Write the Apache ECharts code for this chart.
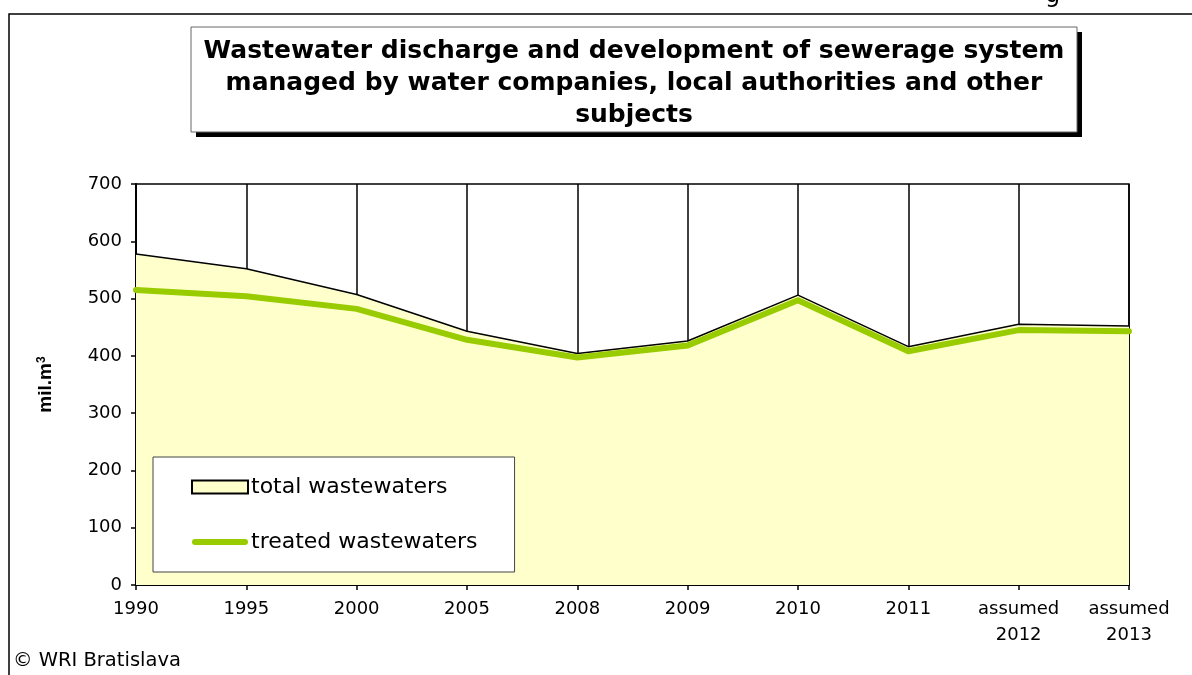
<!DOCTYPE html>
<html>
<head>
<meta charset="utf-8">
<script src="https://cdn.jsdelivr.net/npm/echarts@6/dist/echarts.min.js"></script>
<style>
  html, body { margin: 0; padding: 0; background: #fff; }
  #chart { width: 1192px; height: 675px; }
</style>
</head>
<body>
<div id="chart"></div>
<script>
// Wastewater volumes (mil. m3) by year
const categories = ['1990', '1995', '2000', '2005', '2008', '2009', '2010', '2011', 'assumed\n2012', 'assumed\n2013'];
const totalWastewaters = [578, 552, 507, 443, 404, 426, 506, 416, 455, 452];
const treatedWastewaters = [515, 504, 482, 428, 397, 418, 497, 408, 445, 443];
const yAxisRange = { min: 0, max: 700, interval: 100 };
const titleLines = [
  'Wastewater discharge and development of sewerage system',
  'managed by water companies, local authorities and other',
  'subjects'
];
const seriesNames = ['total wastewaters', 'treated wastewaters'];

const FONT = '"DejaVu Sans", "Liberation Sans", Arial, sans-serif';
const chart = echarts.init(document.getElementById('chart'), null, { renderer: 'canvas' });

// thick rounded bar used as the legend key of the treated line
const lineKey = 'path://M3,0 L53,0 A3,3 0 0 1 53,6 L3,6 A3,3 0 0 1 3,0 Z';

chart.setOption({
  backgroundColor: '#fff',
  animation: false,
  grid: {
    left: 136, right: 63, top: 184, bottom: 90,
    show: true, backgroundColor: '#fff',
    borderColor: '#000', borderWidth: 1.5
  },
  legend: {
    orient: 'vertical',
    left: 153, top: 457,
    padding: [19, 37, 19, 38],
    backgroundColor: '#fff',
    borderColor: '#444', borderWidth: 1,
    itemWidth: 56, itemHeight: 13, itemGap: 33,
    symbolKeepAspect: true,
    textStyle: { fontFamily: FONT, fontSize: 22, lineHeight: 22, color: '#000', padding: [0, 0, 0, -2] },
    data: [
      { name: seriesNames[0], icon: 'rect',
        itemStyle: { color: '#FFFFCC', borderColor: '#000', borderWidth: 2 } },
      { name: seriesNames[1], icon: lineKey,
        itemStyle: { color: '#99CC00', borderWidth: 0 } }
    ]
  },
  xAxis: {
    type: 'category',
    boundaryGap: false,
    data: categories,
    axisLine: { lineStyle: { color: '#000', width: 2 } },
    axisTick: { show: true, length: 5, interval: 0, lineStyle: { color: '#000', width: 1.5 } },
    axisLabel: { interval: 0, color: '#000', fontFamily: FONT, fontSize: 18, margin: 11, lineHeight: 26 },
    splitLine: { show: true, interval: 0, lineStyle: { color: '#000', width: 1.5 } }
  },
  yAxis: {
    type: 'value',
    min: yAxisRange.min, max: yAxisRange.max, interval: yAxisRange.interval,
    axisLine: { show: true, lineStyle: { color: '#000', width: 2 } },
    axisTick: { show: true, length: 5, lineStyle: { color: '#000', width: 1.5 } },
    axisLabel: { color: '#000', fontFamily: FONT, fontSize: 18, margin: 14 },
    splitLine: { show: false },
    name: '{b|mil.m}{s|3}',
    nameLocation: 'middle',
    nameGap: 80,
    nameTextStyle: {
      rich: {
        b: { fontFamily: '"Liberation Sans", Arial, sans-serif', fontWeight: 'bold', fontSize: 19, color: '#000' },
        s: { fontFamily: '"Liberation Sans", Arial, sans-serif', fontWeight: 'bold', fontSize: 12, color: '#000', verticalAlign: 'top', padding: [0, 0, 8, 0] }
      }
    }
  },
  series: [
    {
      name: seriesNames[0],
      type: 'line',
      data: totalWastewaters,
      symbol: 'none',
      lineStyle: { color: '#000', width: 1.5 },
      itemStyle: { color: '#FFFFCC' },
      areaStyle: { color: '#FFFFCC', opacity: 1 },
      z: 2
    },
    {
      name: seriesNames[1],
      type: 'line',
      data: treatedWastewaters,
      symbol: 'none',
      lineStyle: { color: '#99CC00', width: 6, cap: 'round', join: 'round' },
      itemStyle: { color: '#99CC00' },
      z: 3
    }
  ],
  graphic: [
    // outer frame
    { type: 'rect', silent: true, z: 0,
      shape: { x: 9, y: 14, width: 1200, height: 700 },
      style: { fill: 'none', stroke: '#000', lineWidth: 1.5 } },
    // partly visible heading above the frame
    { type: 'text', silent: true,
      style: { x: 1045, y: 8, text: 'g', font: '24px ' + FONT, fill: '#000', verticalAlign: 'bottom' } },
    // title box with hard shadow
    { type: 'rect', silent: true, z: 10,
      shape: { x: 196, y: 32, width: 886, height: 105 },
      style: { fill: '#000' } },
    { type: 'rect', silent: true, z: 11,
      shape: { x: 191, y: 27, width: 886, height: 105 },
      style: { fill: '#fff', stroke: '#666', lineWidth: 1 } },
    { type: 'text', silent: true, z: 12,
      style: {
        x: 634, y: 83, text: titleLines.join('\n'),
        font: 'bold 25px ' + FONT, fill: '#000',
        align: 'center', verticalAlign: 'middle', lineHeight: 32
      } },
    // copyright
    { type: 'text', silent: true,
      style: { x: 13, y: 661, text: '© WRI Bratislava', font: '19.5px ' + FONT, fill: '#000', verticalAlign: 'middle' } }
  ]
});
</script>
</body>
</html>
